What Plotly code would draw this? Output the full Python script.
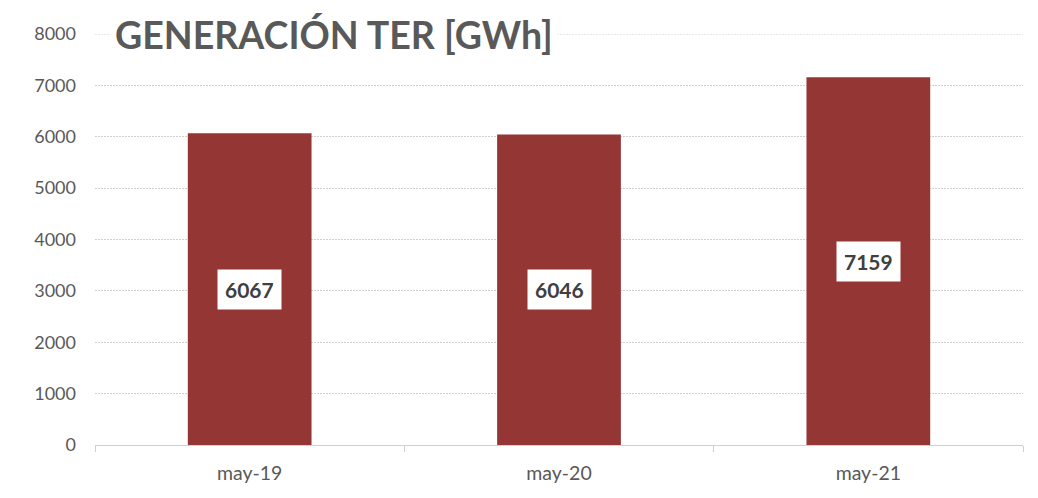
import plotly.graph_objects as go

# data
meses = ["may-19", "may-20", "may-21"]
generacion = [6067, 6046, 7159]
y_ticks = [0, 1000, 2000, 3000, 4000, 5000, 6000, 7000, 8000]

bar_color = "#943634"
gris = "#595959"
grid = "#cfcfcf"

fig = go.Figure(go.Bar(
    x=meses,
    y=generacion,
    width=0.4,
    marker=dict(color=bar_color, line=dict(width=0)),
))

# plotly drops the gridline at the top edge, so draw it by hand
fig.add_shape(
    type="line", xref="paper", x0=0, x1=1, yref="y", y0=y_ticks[-1], y1=y_ticks[-1],
    line=dict(color=grid, width=1, dash="2px,1px"), layer="below",
)

# value labels in white boxes, centred in each bar
for m, v in zip(meses, generacion):
    fig.add_annotation(
        x=m, y=v / 2, text="<b>%d</b>" % v, showarrow=False,
        font=dict(family="Lato", size=21, color="#404040"),
        bgcolor="white", borderpad=7,
    )

# title sitting on the top gridline
fig.add_annotation(
    xref="paper", x=0.016, xanchor="left",
    yref="y", y=8000, yanchor="middle",
    text="<b>GENERACIÓN TER [GWh]</b>", showarrow=False,
    font=dict(family="Lato", size=37.5, color=gris),
    bgcolor="white", borderpad=4,
)

# page body adds an 8px offset, so margins are shifted to compensate
fig.update_layout(
    width=1038, height=498,
    margin=dict(l=87, r=23, t=26, b=61),
    plot_bgcolor="white", paper_bgcolor="white",
    showlegend=False,
    font=dict(family="Lato", color=gris, size=18),
)
fig.update_yaxes(
    range=[0, 8000], tickvals=y_ticks,
    showgrid=True, gridcolor=grid, griddash="2px,1px", gridwidth=1,
    zeroline=False, showline=False,
    ticklabelstandoff=18,
    tickfont=dict(size=18, color=gris),
)
fig.update_xaxes(
    showline=True, linecolor=grid, linewidth=1,
    ticks="outside", tickson="boundaries", ticklen=6, tickcolor=grid,
    tickfont=dict(size=19.5, color=gris),
    ticklabelstandoff=11,
)

fig.write_html("out.html")
